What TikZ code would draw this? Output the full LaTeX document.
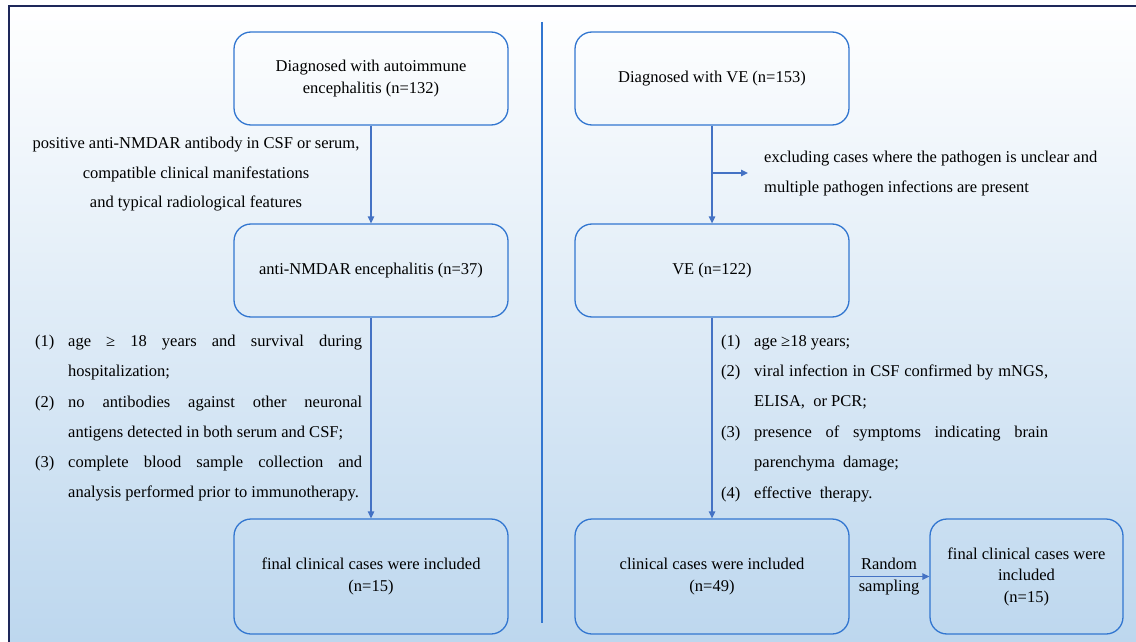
\documentclass[tikz,border=0pt]{standalone}
\usepackage{fontspec}
\setmainfont{LiberationSerif-Regular.ttf}
\usetikzlibrary{arrows.meta}
\definecolor{bgblue}{RGB}{189,215,238}
\definecolor{boxblue}{RGB}{50,118,208}
\definecolor{arrblue}{RGB}{68,114,196}
\definecolor{framecol}{RGB}{30,40,90}
\newcommand{\fs}{\fontsize{16.5}{21.5}\selectfont}
\newcommand{\jl}[1]{\makebox[294pt][s]{#1}}
\tikzset{
  stage/.style={draw=boxblue, line width=1.3pt, rounded corners=17pt, minimum width=274pt, minimum height=93pt, align=center, font=\fs, inner sep=0pt},
  flow/.style={draw=arrblue, line width=1.3pt, -{Triangle[length=7pt,width=6.5pt]}},
  txt/.style={font=\fs, inner sep=0pt, text height=11.5pt, text depth=4pt},
}
\begin{document}
\begin{tikzpicture}[x=1pt,y=-1pt]
\useasboundingbox (0,0) rectangle (1136,642);
\shade[top color=white, bottom color=bgblue] (9,6) rectangle (1136,642);
\draw[framecol, line width=1.6pt] (1136,6) -- (9,6) -- (9,642);
\draw[boxblue, line width=1.3pt] (542,22) -- (542,623);

% left column
\node[stage] (b1) at (371,78.5) {Diagnosed with autoimmune\\encephalitis (n=132)};
\node[stage] (b2) at (371,270.5) {anti-NMDAR encephalitis (n=37)};
\node[stage, minimum height=115pt] (b3) at (371,576.5) {final clinical cases were included\\(n=15)};
\draw[flow] (b1) -- (b2);
\draw[flow] (b2) -- (b3);

\node[txt] (c1) at (196,145) {positive anti-NMDAR antibody in CSF or serum,};
\node[txt] (c2) at (196,175) {compatible clinical manifestations};
\node[txt] (c3) at (196,204) {and typical radiological features};

\node[txt, anchor=west] (l1) at (35,343) {(1)};
\node[txt, anchor=west] (t1) at (68,343) {\jl{age ≥ 18 years and survival during}};
\node[txt, anchor=west] (t2) at (68,373) {hospitalization;};
\node[txt, anchor=west] (l2) at (35,404) {(2)};
\node[txt, anchor=west] (t3) at (68,404) {\jl{no antibodies against other neuronal}};
\node[txt, anchor=west] (t4) at (68,434) {antigens detected in both serum and CSF;};
\node[txt, anchor=west] (l3) at (35,464) {(3)};
\node[txt, anchor=west] (t5) at (68,464) {\jl{complete blood sample collection and}};
\node[txt, anchor=west] (t6) at (68,494) {analysis performed prior to immunotherapy.};

% right column
\node[stage] (b4) at (712,78.5) {Diagnosed with VE (n=153)};
\node[stage] (b5) at (712,270.5) {VE (n=122)};
\node[stage, minimum height=115pt] (b6) at (712,576.5) {clinical cases were included\\(n=49)};
\node[stage, minimum height=115pt, minimum width=193pt] (b7) at (1026.5,576.5) {final clinical cases were\\included\\(n=15)};
\draw[flow] (b4) -- (b5);
\draw[flow] (b5) -- (b6);
\draw[flow] (b6) -- (b7);
\coordinate (br) at (712,173);
\coordinate (brend) at (748,173);
\draw[flow] (br) -- (brend);

\node[txt, anchor=west] (e1) at (764,159) {excluding cases where the pathogen is unclear and};
\node[txt, anchor=west] (e2) at (764,189) {multiple pathogen infections are present};

\node[txt] (r1) at (889,566) {Random};
\node[txt] (r2) at (889,588) {sampling};

\node[txt, anchor=west] (m1) at (721,343) {(1)};
\node[txt, anchor=west] (s1) at (754,343) {age ≥18 years;};
\node[txt, anchor=west] (m2) at (721,373) {(2)};
\node[txt, anchor=west] (s2) at (754,373) {\jl{viral infection in CSF confirmed by mNGS,}};
\node[txt, anchor=west] (s3) at (754,403) {ELISA,\ \ or PCR;};
\node[txt, anchor=west] (m3) at (721,434) {(3)};
\node[txt, anchor=west] (s4) at (754,434) {\jl{presence of symptoms indicating brain}};
\node[txt, anchor=west] (s5) at (754,464) {parenchyma\ \ damage;};
\node[txt, anchor=west] (m4) at (721,495) {(4)};
\node[txt, anchor=west] (s6) at (754,495) {effective\ \ therapy.};
\end{tikzpicture}
\end{document}
